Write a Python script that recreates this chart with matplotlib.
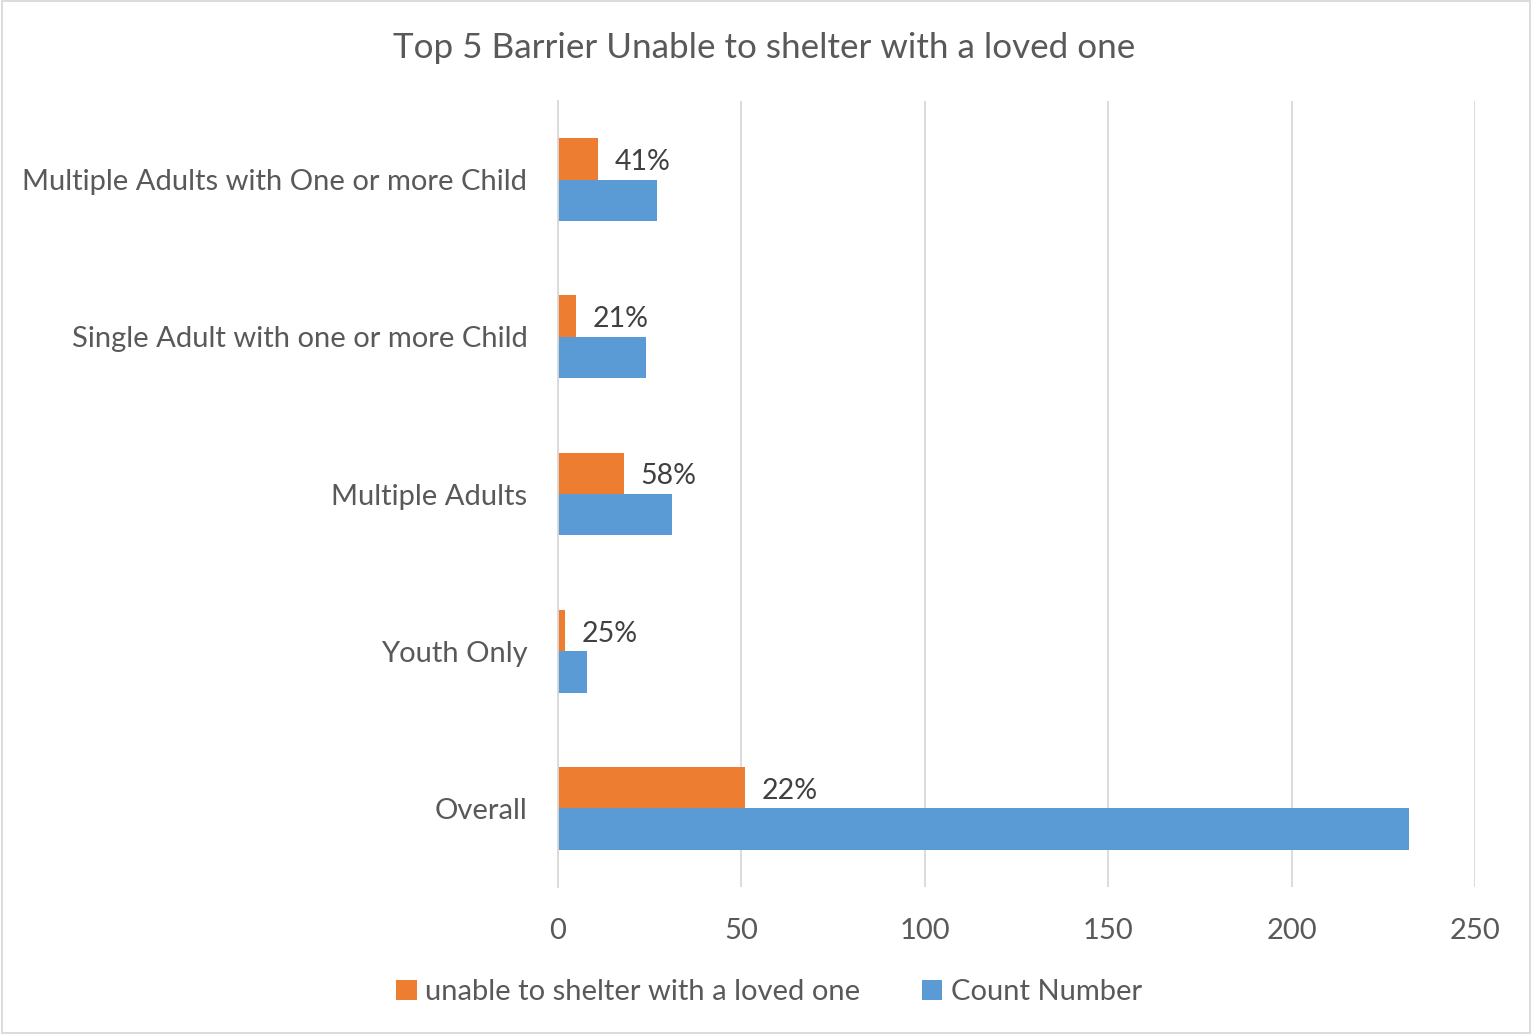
import matplotlib.pyplot as plt
import numpy as np

plt.rcParams['font.family'] = ['Lato', 'DejaVu Sans']

categories = ['Overall', 'Youth Only', 'Multiple Adults',
              'Single Adult with one or more Child',
              'Multiple Adults with One or more Child']
unable = [51, 2, 18, 5, 11]
count = [232, 8, 31, 24, 27]
pct_labels = ['22%', '25%', '58%', '21%', '41%']

orange = '#ED7D31'
blue = '#5B9BD5'
txt = '#595959'

fig = plt.figure(figsize=(15.32, 10.34), dpi=100)
ax = fig.add_axes([558 / 1532, 1 - 887 / 1034, (1475 - 558) / 1532, 786 / 1034])

y = np.arange(len(categories))
h = 0.263
ax.barh(y + h / 2, unable, h, color=orange, label='unable to shelter with a loved one', zorder=3)
ax.barh(y - h / 2, count, h, color=blue, label='Count Number', zorder=3)

for yi, v, lab in zip(y, unable, pct_labels):
    ax.text(v + 4.5, yi + h / 2 - 0.02, lab, va='center', ha='left', fontsize=20.5, color='#404040')

ax.set_xlim(0, 250)
ax.set_ylim(-0.5, 4.5)
ax.set_xticks(np.arange(0, 251, 50))
ax.set_yticks(y)
ax.set_yticklabels(categories)
ax.tick_params(length=0, labelsize=21, colors=txt)
ax.tick_params(axis='y', pad=22)
ax.tick_params(axis='x', pad=22)
ax.grid(axis='x', color='#D9D9D9', linewidth=1.3, zorder=0)
for s in ['top', 'right', 'bottom']:
    ax.spines[s].set_visible(False)
ax.spines['left'].set_color('#D9D9D9')
ax.spines['left'].set_linewidth(1.3)
ax.spines['left'].set_zorder(4)

fig.text(0.4985, 1 - 48 / 1034, 'Top 5 Barrier Unable to shelter with a loved one',
         ha='center', va='center', fontsize=25.2, color=txt)

fig.legend(loc='center', bbox_to_anchor=(0.502, 1 - 992 / 1034), ncol=2, frameon=False,
           fontsize=21, labelcolor=txt, handlelength=0.7, handleheight=0.7,
           handletextpad=0.3, columnspacing=2.1)

border = plt.Rectangle((0.001, 0.001), 0.998, 0.998, transform=fig.transFigure,
                       fill=False, edgecolor='#D9D9D9', linewidth=1.3)
fig.patches.append(border)

fig.savefig('out.png', dpi=100)
